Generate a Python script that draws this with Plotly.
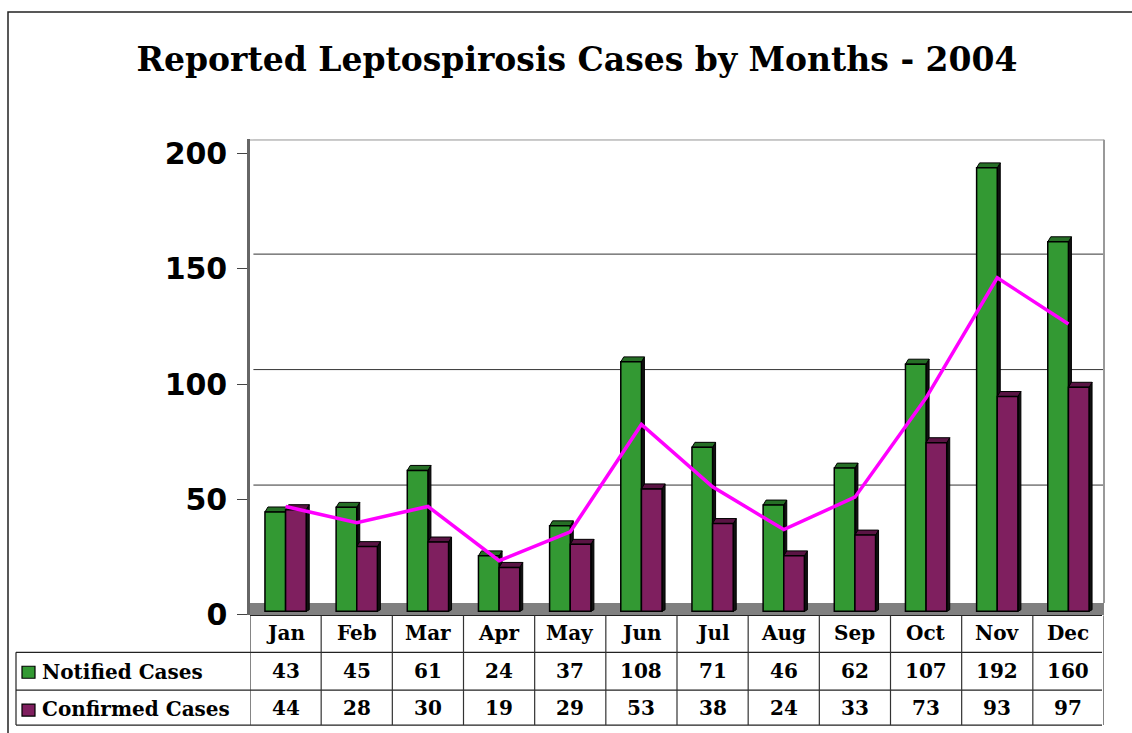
import plotly.graph_objects as go

months = ["Jan", "Feb", "Mar", "Apr", "May", "Jun", "Jul", "Aug", "Sep", "Oct", "Nov", "Dec"]
notified = [43, 45, 61, 24, 37, 108, 71, 46, 62, 107, 192, 160]
confirmed = [44, 28, 30, 19, 29, 53, 38, 24, 33, 73, 93, 97]
trend = [47, 40, 47, 23.5, 36, 82.5, 55.5, 37, 51, 94, 146, 126]
y_ticks = [0, 50, 100, 150, 200]
series_names = ["Notified Cases", "Confirmed Cases"]

W, H = 1132, 733          # design coordinates (reference pixels)
FIG_H = 751               # layout height (renders to the 733 px frame)
GREEN, GREEN_TOP = "#339933", "#266F26"
PURPLE, PURPLE_TOP = "#7F1F5F", "#5A1444"
FONT_SERIF = "DejaVu Serif"

def px(x):
    return x / W

def py(y):
    return 1 - y / H

x_left_px, x_right_px = 250, 1104
y_zero_px, y_top_px = 614.5, 137
px_per_unit = (614.5 - 150.7) / 200
y_max = (y_zero_px - y_top_px) / px_per_unit
col_px = (x_right_px - x_left_px) / 12

BASE = 1.6
BW = 0.29
DX = 3 / col_px
DY = 5 / px_per_unit
WALL = 14.5 / px_per_unit
idx = list(range(12))

fig = go.Figure()
fig.add_trace(go.Bar(x=idx, y=notified, base=BASE, width=BW, offset=-BW, name=series_names[0],
                     marker=dict(color=GREEN, line=dict(color="black", width=1.5))))
fig.add_trace(go.Bar(x=idx, y=confirmed, base=BASE, width=BW, offset=0, name=series_names[1],
                     marker=dict(color=PURPLE, line=dict(color="black", width=1.5))))
fig.add_trace(go.Scatter(x=idx, y=trend, mode="lines", line=dict(color="#FF00FF", width=3.5),
                         showlegend=False, hoverinfo="skip"))

shapes = []
# floor
shapes.append(dict(type="rect", xref="x domain", yref="y", x0=0, x1=1, y0=0, y1=5.2,
                   fillcolor="#808080", line=dict(width=0), layer="below"))
# back wall gridlines
for t in y_ticks[1:]:
    shapes.append(dict(type="line", xref="x domain", yref="y", x0=0.004, x1=1, y0=t + WALL, y1=t + WALL,
                       line=dict(color="#333333", width=1), layer="below"))
# top and right wall border
shapes.append(dict(type="line", xref="x domain", yref="y", x0=0.0, x1=1, y0=y_max, y1=y_max,
                   line=dict(color="#999999", width=2), layer="below"))
shapes.append(dict(type="line", xref="x domain", yref="y", x0=1, x1=1, y0=5.2, y1=y_max,
                   line=dict(color="#999999", width=2), layer="below"))

# 3D caps and sides
for k, (vals, topc) in enumerate([(notified, GREEN_TOP), (confirmed, PURPLE_TOP)]):
    for i, v in enumerate(vals):
        xl = i - BW if k == 0 else i
        xr = xl + BW
        top = BASE + v
        shapes.append(dict(type="path", xref="x", yref="y",
                           path=f"M {xr} {BASE} L {xr} {top} L {xr+DX} {top+DY} L {xr+DX} {BASE+DY*0.3} Z",
                           fillcolor="#111111", line=dict(color="black", width=1), layer="below"))
        shapes.append(dict(type="path", xref="x", yref="y",
                           path=f"M {xl} {top} L {xl+DX} {top+DY} L {xr+DX} {top+DY} L {xr} {top} Z",
                           fillcolor=topc, line=dict(color="black", width=1), layer="below"))

# outer frame
shapes.append(dict(type="rect", xref="paper", yref="paper", x0=px(8), x1=1.05, y0=-0.05, y1=py(9),
                   line=dict(color="#222222", width=1.5), fillcolor="rgba(0,0,0,0)", layer="above"))

# table lines
TL = dict(color="#222222", width=1.2)
row_lines_px = [652, 690, 725]
for yl in row_lines_px:
    shapes.append(dict(type="line", xref="paper", yref="paper", x0=px(16), x1=px(1102), y0=py(yl), y1=py(yl),
                       line=TL, layer="above"))
shapes.append(dict(type="line", xref="paper", yref="paper", x0=px(250), x1=px(1102), y0=py(615), y1=py(615),
                   line=TL, layer="above"))
shapes.append(dict(type="line", xref="paper", yref="paper", x0=px(16), x1=px(16), y0=py(652), y1=py(725),
                   line=TL, layer="above"))
for i in range(13):
    xb = i - 0.5
    shapes.append(dict(type="line", xref="x", yref="paper", x0=xb, x1=xb, y0=py(615), y1=py(725),
                       line=dict(color="#333333", width=1.2), layer="above"))

# legend keys
for r, c in enumerate([GREEN, PURPLE]):
    yc = [672, 710][r]
    shapes.append(dict(type="rect", xref="paper", yref="paper", x0=px(22), x1=px(35), y0=py(yc + 6), y1=py(yc - 6),
                       fillcolor=c, line=dict(color="black", width=1.2), layer="above"))

annotations = []
TF = dict(family=FONT_SERIF, size=20, color="black")
for i, m in enumerate(months):
    annotations.append(dict(x=i, y=py(633), xref="x", yref="paper", text=f"<b>{m}</b>", showarrow=False,
                            font=TF, xanchor="center", yanchor="middle"))
    annotations.append(dict(x=i, y=py(671), xref="x", yref="paper", text=f"<b>{notified[i]}</b>", showarrow=False,
                            font=TF, xanchor="center", yanchor="middle"))
    annotations.append(dict(x=i, y=py(708), xref="x", yref="paper", text=f"<b>{confirmed[i]}</b>", showarrow=False,
                            font=TF, xanchor="center", yanchor="middle"))
for r, name in enumerate(series_names):
    annotations.append(dict(x=px(40), y=py([672, 709][r]), xref="paper", yref="paper", text=f"<b>{name}</b>",
                            showarrow=False, font=TF, xanchor="left", yanchor="middle"))

fig.update_layout(
    width=W, height=FIG_H,
    margin=dict(l=0, r=0, t=0, b=0),
    paper_bgcolor="white", plot_bgcolor="rgba(0,0,0,0)",
    showlegend=False,
    barmode="overlay",
    title=dict(text="<b>Reported Leptospirosis Cases by Months - 2004</b>", x=px(577), y=py(57),
               xanchor="center", yanchor="middle", xref="paper", yref="paper",
               font=dict(family=FONT_SERIF, size=33, color="black")),
    xaxis=dict(domain=[px(x_left_px), px(x_right_px)], range=[-0.5, 11.5], showticklabels=False,
               showgrid=False, zeroline=False, showline=False, ticks=""),
    yaxis=dict(domain=[py(y_zero_px), py(y_top_px)], range=[0, y_max], tickvals=y_ticks,
               ticktext=[f"<b>{t}</b>" for t in y_ticks], showgrid=False, zeroline=False,
               showline=True, linecolor="#666666", linewidth=2.5, ticks="outside", ticklen=10,
               tickcolor="#444444", tickwidth=1.2, ticklabelstandoff=4,
               tickfont=dict(family="DejaVu Sans", size=30, color="black")),
    shapes=shapes,
    annotations=annotations,
)

fig.write_html("out.html", config={"displayModeBar": False},
               post_script="document.body.style.margin='0';document.body.style.overflow='hidden';")
